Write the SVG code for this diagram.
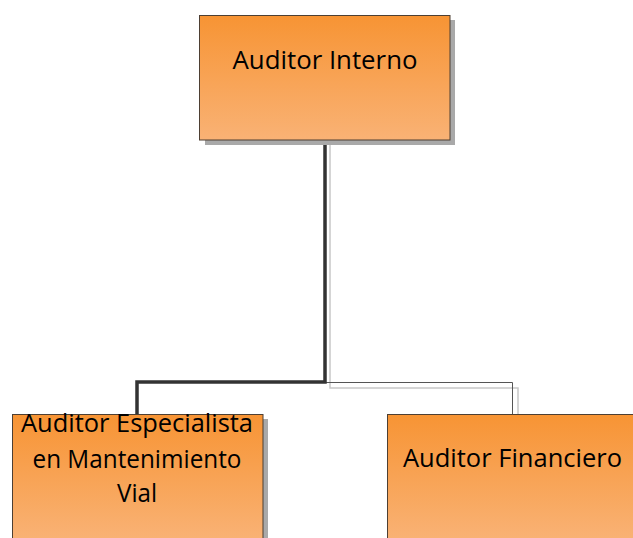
<svg xmlns="http://www.w3.org/2000/svg" width="633" height="538" viewBox="0 0 633 538">
<defs>
<linearGradient id="g" x1="0" y1="0" x2="0" y2="1">
<stop offset="0" stop-color="#f79434"/>
<stop offset="1" stop-color="#f9b275"/>
</linearGradient>
<style>
.box{fill:url(#g);stroke:#4d3f33;stroke-width:1}
.sh{fill:#a9a9a9}
.t{font-family:"Open Sans","Liberation Sans",Arial,sans-serif;font-size:26px;fill:#000;text-anchor:middle}
.thick{fill:none;stroke:#333;stroke-width:3.5}
.thin{fill:none;stroke:#555;stroke-width:1}
.lt{fill:none;stroke:#c8c8c8;stroke-width:1.5}
</style>
</defs>
<rect width="633" height="538" fill="#fff"/>
<g id="connectors">
<polyline class="lt" points="330,140 330,388 518,388 518,419"/>
<polyline class="thin" points="325,382.5 512.5,382.5 512.5,414"/>
<polyline class="thick" points="325,140 325,382 137,382 137,414"/>
</g>
<g id="node-auditor-interno">
<rect class="sh" x="205" y="20" width="250" height="125"/>
<rect class="box" x="199.5" y="15.5" width="250.5" height="124.5"/>
<text class="t" x="325" y="69" textLength="185" lengthAdjust="spacingAndGlyphs">Auditor Interno</text>
</g>
<g id="node-auditor-especialista">
<rect class="sh" x="17" y="419" width="251" height="125"/>
<rect class="box" x="12.5" y="414.5" width="250.5" height="125"/>
<text class="t" x="137" y="432" textLength="232" lengthAdjust="spacingAndGlyphs">Auditor Especialista</text>
<text class="t" x="137" y="468" textLength="209" lengthAdjust="spacingAndGlyphs">en Mantenimiento</text>
<text class="t" x="137" y="502" textLength="40" lengthAdjust="spacingAndGlyphs">Vial</text>
</g>
<g id="node-auditor-financiero">
<rect class="box" x="387.5" y="414.5" width="252" height="125"/>
<text class="t" x="512.5" y="467" textLength="219" lengthAdjust="spacingAndGlyphs">Auditor Financiero</text>
</g>
</svg>
